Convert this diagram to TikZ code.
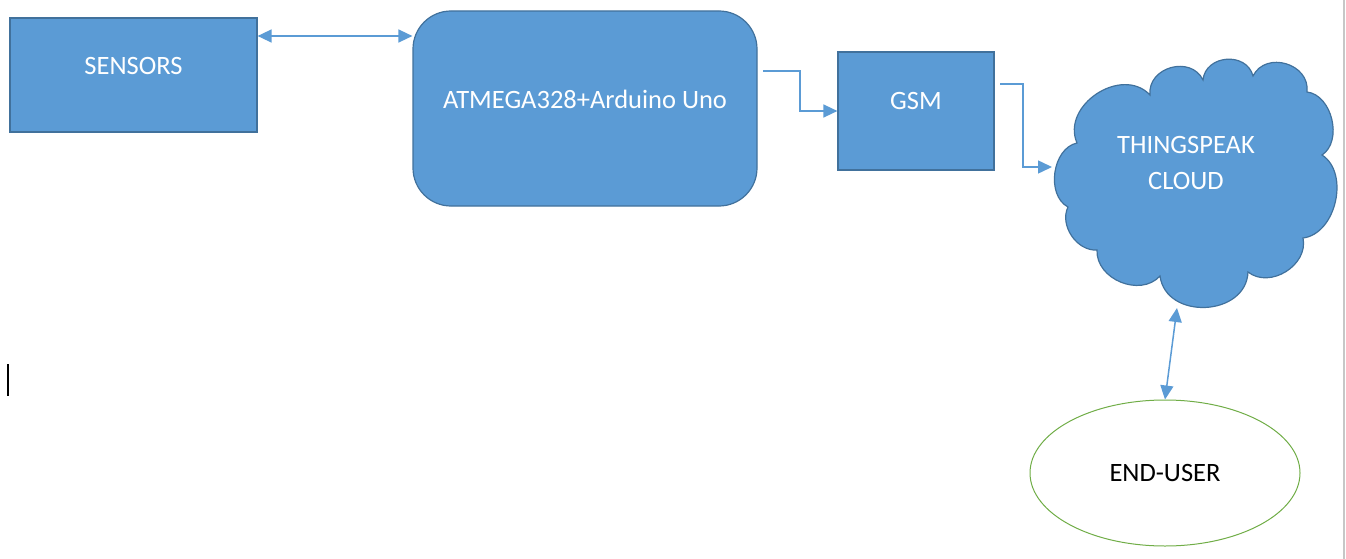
\documentclass[tikz,border=0pt]{standalone}
\usepackage{fontspec}
\setmainfont{Carlito}
\usetikzlibrary{arrows.meta,shapes.geometric}
\definecolor{ofblue}{HTML}{5B9BD5}
\definecolor{ofdark}{HTML}{41719C}
\definecolor{ofgreen}{HTML}{70AD47}
\begin{document}
\begin{tikzpicture}[x=1pt,y=-1pt,
  box/.style={draw=ofdark, fill=ofblue, line width=1.2pt, inner sep=0pt},
  lbl/.style={text=white, font=\fontsize{26.5}{36}\selectfont, align=center, inner sep=0pt},
  tip/.tip={Triangle[length=14pt,width=13pt]},
  arr/.style={draw=ofblue, line width=1.5pt, -tip},
  darr/.style={draw=ofblue, line width=1.5pt, tip-tip}]
\useasboundingbox (0,0) rectangle (1346,559);
% page edge and cursor
\draw[black!22, line width=2pt] (1344,0) -- (1344,559);
\draw[black, line width=1.5pt] (8,364) -- (8,396);
% boxes
\node[box, minimum width=247pt, minimum height=114pt] (sens) at (133.5,75) {};
\node[lbl] (sensT) at (133.5,66) {SENSORS};
\node[box, rounded corners=38pt, minimum width=344pt, minimum height=195pt] (atm) at (585,108.5) {};
\node[lbl] (atmT) at (585,99) {ATMEGA328+Arduino Uno};
\node[box, minimum width=156pt, minimum height=118pt] (gsm) at (916,111) {};
\node[lbl] (gsmT) at (916,101) {GSM};
% cloud
\draw[box] (1077,143) to[bend left=80, looseness=1.2] (1150,95) to[bend left=80, looseness=1.3] (1203,80)
  to[bend left=80, looseness=1.3] (1253,76) to[bend left=80, looseness=1.3] (1307,92) to[bend left=70] (1322,155)
  to[bend left=70] (1303,238) to[bend left=70, looseness=1.1] (1248,272) to[bend left=85, looseness=1.3] (1160,276)
  to[bend left=70, looseness=1.1] (1097,250) to[bend left=60] (1068,207) to[bend left=70] (1077,143) -- cycle;
\node[lbl] (cloudT) at (1186,163) {THINGSPEAK\\CLOUD};
% end user
\node[ellipse, draw=ofgreen, line width=1pt, minimum width=270pt, minimum height=146pt, inner sep=0pt] (user) at (1165,473) {};
\node[font=\fontsize{26.5}{30}\selectfont, inner sep=0pt] (userT) at (1165,473) {END-USER};
% connectors
\coordinate (atmOut) at (763,71);
\coordinate (gsmOut) at (1000,84);
\coordinate (cloudIn) at (1052,167);
\coordinate (cloudBot) at (1177,308);
\draw[darr] (sens.east |- 0,36) -- (atm.west |- 0,36);
\draw[arr] (atmOut) -- (800,71) |- (gsm.west);
\draw[arr] (gsmOut) -- (1023,84) |- (cloudIn);
\draw[darr] (cloudBot) -- (user.north);
\end{tikzpicture}
\end{document}
